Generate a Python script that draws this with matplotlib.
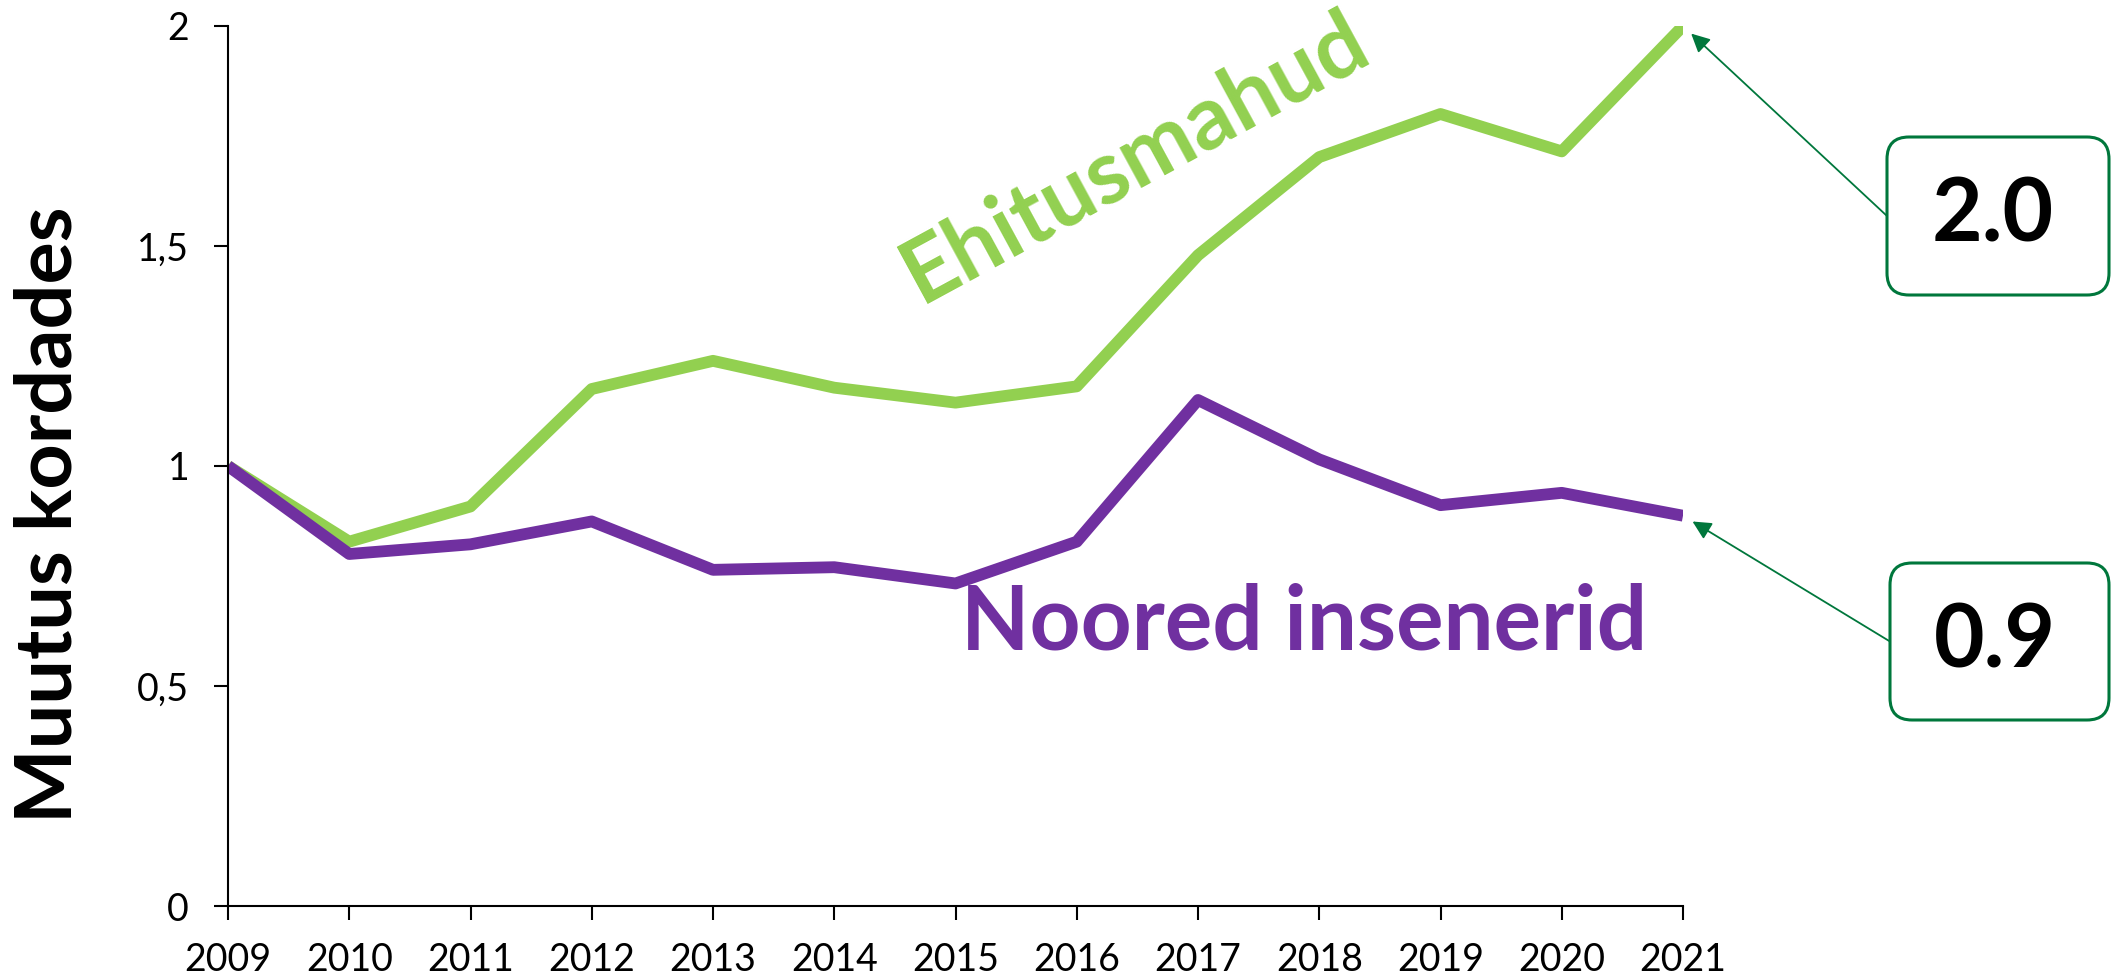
import matplotlib
matplotlib.use('Agg')
import matplotlib.pyplot as plt
from matplotlib.patches import FancyBboxPatch

plt.rcParams['font.family'] = ['Lato', 'DejaVu Sans']

years = [2009, 2010, 2011, 2012, 2013, 2014, 2015, 2016, 2017, 2018, 2019, 2020, 2021]
ehitusmahud = [1.0, 0.828, 0.908, 1.175, 1.239, 1.178, 1.144, 1.181, 1.479, 1.702, 1.80, 1.715, 2.0]
noored = [1.0, 0.80, 0.822, 0.874, 0.764, 0.770, 0.733, 0.828, 1.150, 1.015, 0.911, 0.939, 0.887]
yticks = [0, 0.5, 1, 1.5, 2]
ytick_labels = ['0', '0,5', '1', '1,5', '2']

green = '#92D050'
purple = '#7030A0'
dkgreen = '#00773C'

fig = plt.figure(figsize=(21.13, 9.8), dpi=100)
ax = fig.add_axes([228 / 2113, 74 / 980, (1683 - 228) / 2113, (906 - 26) / 980])

ax.plot(years, ehitusmahud, color=green, lw=8.5, solid_joinstyle='round', solid_capstyle='butt')
ax.plot(years, noored, color=purple, lw=8.5, solid_joinstyle='round', solid_capstyle='butt')

ax.set_xlim(2009, 2021)
ax.set_ylim(0, 2)
ax.set_xticks(years)
ax.set_xticklabels([str(y) for y in years])
ax.set_yticks(yticks)
ax.set_yticklabels(ytick_labels)
for s in ['top', 'right']:
    ax.spines[s].set_visible(False)
for s in ['left', 'bottom']:
    ax.spines[s].set_linewidth(1.5)
ax.tick_params(axis='both', direction='out', length=10, width=1.5, labelsize=27)
ax.tick_params(axis='x', pad=16)
ax.tick_params(axis='y', pad=18)

fig.text(50 / 2113, 1 - 515 / 980, 'Muutus kordades', rotation=90, ha='center', va='center',
         fontsize=57, fontweight='bold')

fig.text(1135 / 2113, 1 - 158 / 980, 'Ehitusmahud', rotation=28.5,
         rotation_mode='anchor', ha='center', va='center', fontsize=64, fontweight='bold', color=green)
fig.text(1304 / 2113, 1 - 624 / 980, 'Noored insenerid',
         ha='center', va='center', fontsize=64, fontweight='bold', color=purple)

# callout boxes, in inches
boxes = [(18.87, 6.85, 2.22, 1.58, ehitusmahud[-1]), (18.90, 2.60, 2.19, 1.57, noored[-1])]
for x0, y0, w, h, val in boxes:
    p = FancyBboxPatch((x0, y0), w, h, boxstyle='round,pad=0,rounding_size=0.22',
                       transform=fig.dpi_scale_trans, fc='white', ec=dkgreen, lw=2.2)
    fig.add_artist(p)
    fig.text(x0 + w / 2 - 0.05, y0 + h / 2, f'{val:.1f}', transform=fig.dpi_scale_trans,
             ha='center', va='center', fontsize=63, fontweight='bold', color='black')
    ax.annotate('', xy=(years[-1], val), xycoords='data',
                xytext=(x0, y0 + h / 2), textcoords=fig.dpi_scale_trans,
                arrowprops=dict(arrowstyle='-|>', color=dkgreen, lw=1.3, mutation_scale=28,
                                shrinkA=0, shrinkB=8),
                annotation_clip=False)

fig.savefig('out.png', dpi=100)
